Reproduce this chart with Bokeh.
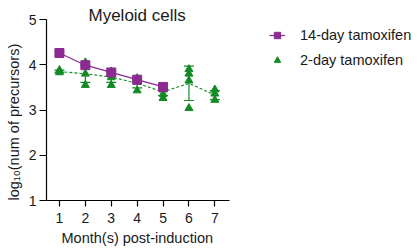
from bokeh.plotting import figure
from bokeh.models import Range1d, Legend, LegendItem, Label, Whisker, ColumnDataSource, FixedTicker, Title
from bokeh.embed import file_html
from bokeh.resources import INLINE

# ---- data ----
months = [1, 2, 3, 4, 5, 6, 7]
months_14day = [1, 2, 3, 4, 5]
mean_14day = [4.26, 3.99, 3.83, 3.67, 3.51]

# 2-day tamoxifen: individual animals
pts_2day_x = [1, 1, 2, 2, 2, 3, 3, 3, 4, 4, 4, 5, 5, 5, 6, 6, 6, 6, 7, 7, 7]
pts_2day_y = [3.88, 3.83, 4.05, 3.80, 3.55, 3.85, 3.72, 3.55, 3.70, 3.62, 3.43,
              3.45, 3.35, 3.26, 3.90, 3.80, 3.65, 3.04, 3.45, 3.36, 3.22]
mean_2day = [3.85, 3.80, 3.73, 3.59, 3.40, 3.59, 3.33]
err_2day = [0.03, 0.19, 0.12, 0.10, 0.08, 0.38, 0.10]

title_text = "Myeloid cells"
x_label = "Month(s) post-induction"
y_label = "log\u2081\u2080(num of precursors)"
labels = ["14-day tamoxifen", "2-day tamoxifen"]
y_ticks = [1, 2, 3, 4, 5]

PURPLE = "#8B2A90"
GREEN = "#138A26"
FONT = "Liberation Sans"
TXT = "#1a1a1a"

# frame spans the whole right/top area; axes are bounded to the data area
p = figure(width=417, height=250, output_backend="svg", toolbar_location=None,
           x_range=Range1d(0.5, 0.5 + 371 / 25.9), y_range=Range1d(1, 5 + 19 / 45.25),
           min_border_left=46, min_border_right=0, min_border_top=0, min_border_bottom=50)
p.title = None
p.outline_line_color = None
p.grid.visible = False
p.background_fill_color = "white"
p.border_fill_color = "white"

for ax in (p.xaxis[0], p.yaxis[0]):
    ax.axis_line_color = "black"
    ax.axis_line_width = 1.2
    ax.major_tick_line_color = "black"
    ax.major_tick_line_width = 1.2
    ax.minor_tick_line_color = None
    ax.major_tick_in = 0
    ax.major_label_text_font = FONT
    ax.major_label_text_font_size = "14px"
    ax.major_label_text_color = TXT

p.xaxis.bounds = (0.5, 7.55)
p.xaxis.ticker = FixedTicker(ticks=months)
p.xaxis.major_tick_out = 6
p.xaxis.major_label_standoff = 6
p.yaxis.bounds = (1, 5)
p.yaxis.ticker = FixedTicker(ticks=y_ticks)
p.yaxis.major_tick_out = 7
p.yaxis.major_label_standoff = 3

# axis titles centred on the data area (not on the enlarged frame)
p.add_layout(Title(text=x_label, align="left", offset=15, standoff=4,
                   text_font=FONT, text_font_size="14.5px", text_font_style="normal",
                   text_color=TXT), "below")
p.add_layout(Title(text=y_label, align="left", offset=0, standoff=7,
                   text_font=FONT, text_font_size="14.5px", text_font_style="normal",
                   text_color=TXT), "left")

# 2-day series
src_err = ColumnDataSource(dict(x=months,
                                lo=[m - e for m, e in zip(mean_2day, err_2day)],
                                hi=[m + e for m, e in zip(mean_2day, err_2day)]))
wh = Whisker(source=src_err, base="x", lower="lo", upper="hi",
             line_color=GREEN, line_width=1.2)
for h in (wh.upper_head, wh.lower_head):
    h.size = 10
    h.line_color = GREEN
    h.line_width = 1.2
p.add_layout(wh)

p.line(months, mean_2day, line_color=GREEN, line_width=1.1, line_dash="3 2")
tri = p.scatter(pts_2day_x, pts_2day_y, marker="triangle", size=8,
                fill_color=GREEN, line_color=GREEN)

# 14-day series
l14 = p.line(months_14day, mean_14day, line_color=PURPLE, line_width=1.2)
s14 = p.scatter(months_14day, mean_14day, marker="square", size=9,
                fill_color=PURPLE, line_color=PURPLE)

# chart title
p.add_layout(Label(x=4, y=5.09, text=title_text, text_align="center", text_baseline="alphabetic",
                   text_font=FONT, text_font_size="17px", text_color=TXT))

legend = Legend(items=[LegendItem(label=labels[0], renderers=[l14, s14]),
                       LegendItem(label=labels[1], renderers=[tri])],
                location=(223, 130), orientation="vertical",
                label_text_font=FONT, label_text_font_size="14.5px", label_text_color=TXT,
                glyph_width=16, glyph_height=20, label_height=20, label_standoff=15, spacing=5,
                padding=0, margin=0, border_line_color=None, background_fill_alpha=0)
p.add_layout(legend, "center")

open("out.html", "w").write(file_html(p, INLINE))
